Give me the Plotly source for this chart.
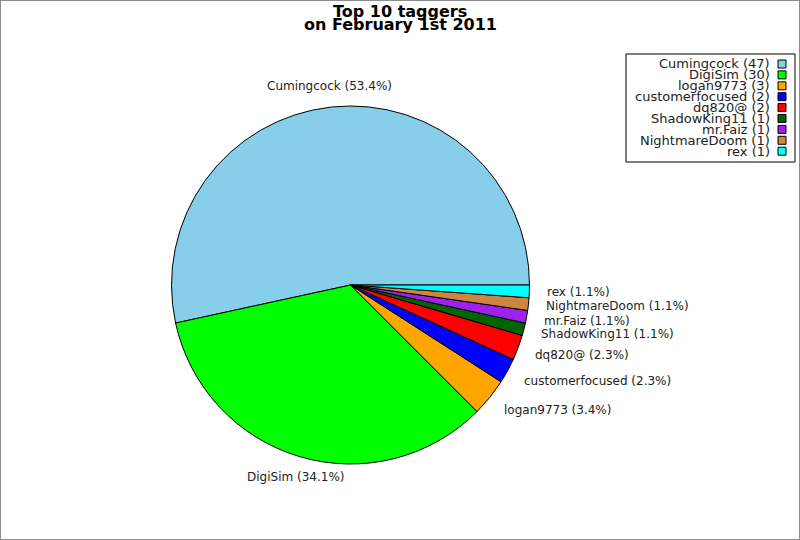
import numpy as np
import plotly.graph_objects as go

W, H = 800, 540
FONT = "DejaVu Sans"

# ── Data ─────────────────────────────────────────────────────────────────────
taggers = ["Cumingcock", "DigiSim", "logan9773", "customerfocused", "dq820@",
           "ShadowKing11", "mr.Faiz", "NightmareDoom", "rex"]
tags = [47, 30, 3, 2, 2, 1, 1, 1, 1]
colors = ["#87CEEB", "#00FF00", "#FFA500", "#0000FF", "#FF0000",
          "#006400", "#A020F0", "#CD853F", "#00FFFF"]

# pie geometry in pixels
CX, CY, R = 350.5, 285.0, 179.0
RX_LABEL, RY_LABEL = 195.0, 200.0


def px(x):
    return x / W


def py(y):
    return 1 - y / H


vals = np.array(tags, dtype=float)
share = vals / vals.sum()

fig = go.Figure()
# plotly's counterclockwise pies end the first slice at `rotation`,
# so shift it so Cumingcock starts at 3 o'clock
fig.add_trace(go.Pie(
    labels=taggers, values=tags, sort=False,
    direction="counterclockwise", rotation=90 - 360 * share[0],
    marker=dict(colors=colors, line=dict(color="black", width=1)),
    textinfo="none", showlegend=False,
    domain=dict(x=[px(CX - R), px(CX + R)], y=[py(CY + R), py(CY - R)]),
))

annotations = []
shapes = []

# slice labels placed around the pie, like the original renderer
mids = (np.cumsum(share) - share / 2) * 2 * np.pi
for name, s, a in zip(taggers, share, mids):
    x = CX + RX_LABEL * np.cos(a)
    y = CY - RY_LABEL * np.sin(a)
    c = np.cos(a)
    anchor = "left" if c > 0.5 else ("right" if c < -0.5 else "center")
    annotations.append(dict(
        x=px(x), y=py(y), xref="paper", yref="paper",
        xanchor=anchor, yanchor="middle", showarrow=False,
        text=f"{name} ({s * 100:.1f}%)",
        font=dict(family=FONT, size=12, color="#222"),
    ))

# legend box: text right-aligned, swatch on the right
LEG_X0, LEG_X1, LEG_Y0, LEG_Y1 = 626, 795, 54, 162
ROW0, ROW_STEP = 64, 10.9
shapes.append(dict(type="rect", xref="paper", yref="paper",
                   x0=px(LEG_X0), x1=px(LEG_X1), y0=py(LEG_Y1), y1=py(LEG_Y0),
                   line=dict(color="black", width=1), fillcolor="white"))
for i, (name, v, col) in enumerate(zip(taggers, tags, colors)):
    yc = ROW0 + i * ROW_STEP
    annotations.append(dict(
        x=px(772), y=py(yc), xref="paper", yref="paper",
        xanchor="right", yanchor="middle", showarrow=False,
        text=f"{name} ({v})",
        font=dict(family=FONT, size=13, color="#222"),
    ))
    shapes.append(dict(type="rect", xref="paper", yref="paper",
                       x0=px(778), x1=px(786), y0=py(yc + 4), y1=py(yc - 4),
                       line=dict(color="black", width=1), fillcolor=col))

# two-line title, tight spacing
for txt, yy in [("Top 10 taggers", 11), ("on February 1st 2011", 25)]:
    annotations.append(dict(
        x=px(400), y=py(yy), xref="paper", yref="paper",
        xanchor="center", yanchor="middle", showarrow=False,
        text=f"<b>{txt}</b>",
        font=dict(family=FONT, size=16, color="black"),
    ))

# grey frame round the whole picture
shapes.append(dict(type="rect", xref="paper", yref="paper",
                   x0=0, x1=1, y0=0, y1=1,
                   line=dict(color="#8c8c8c", width=2)))

fig.update_layout(
    width=W, height=H,
    margin=dict(l=0, r=0, t=0, b=0),
    paper_bgcolor="white", plot_bgcolor="white",
    font=dict(family=FONT),
    annotations=annotations, shapes=shapes,
)

fig.write_html("out.html", config={"displayModeBar": False},
               post_script="document.body.style.margin='0';")
